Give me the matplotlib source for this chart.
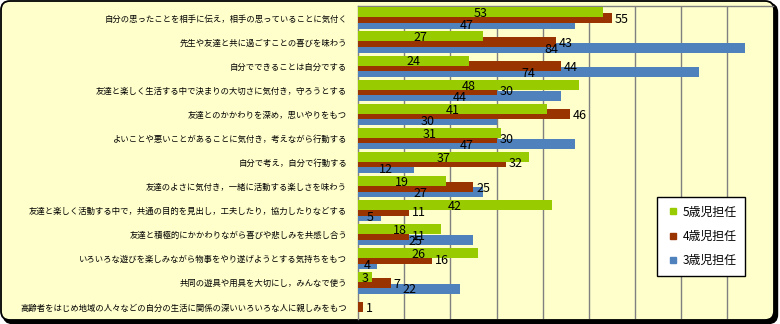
import numpy as np
import matplotlib.pyplot as plt
from matplotlib.patches import FancyBboxPatch
from matplotlib.lines import Line2D

plt.rcParams['font.family'] = ['Noto Sans CJK JP', 'DejaVu Sans']

# items (top to bottom) and counts per teacher group
items = [
    '自分の思ったことを相手に伝え，相手の思っていることに気付く',
    '先生や友達と共に過ごすことの喜びを味わう',
    '自分でできることは自分でする',
    '友達と楽しく生活する中で決まりの大切さに気付き，守ろうとする',
    '友達とのかかわりを深め，思いやりをもつ',
    'よいことや悪いことがあることに気付き，考えながら行動する',
    '自分で考え，自分で行動する',
    '友達のよさに気付き，一緒に活動する楽しさを味わう',
    '友達と楽しく活動する中で，共通の目的を見出し，工夫したり，協力したりなどする',
    '友達と積極的にかかわりながら喜びや悲しみを共感し合う',
    'いろいろな遊びを楽しみながら物事をやり遂げようとする気持ちをもつ',
    '共同の遊具や用具を大切にし，みんなで使う',
    '高齢者をはじめ地域の人々などの自分の生活に関係の深いいろいろな人に親しみをもつ',
]
age5 = [53, 27, 24, 48, 41, 31, 37, 19, 42, 18, 26, 3, 0]
age4 = [55, 43, 44, 30, 46, 30, 32, 25, 11, 11, 16, 7, 1]
age3 = [47, 84, 74, 44, 30, 47, 12, 27, 5, 25, 4, 22, 0]
series_names = ['5歳児担任', '4歳児担任', '3歳児担任']
colors = ['#99CC00', '#993300', '#4F81BD']

W, H = 780, 324
fig = plt.figure(figsize=(W / 100, H / 100), dpi=100)

# rounded chart frame with a small shadow
bg = fig.add_axes([0, 0, 1, 1], zorder=0)
bg.set_xlim(0, W)
bg.set_ylim(H, 0)
bg.axis('off')
bg.add_patch(FancyBboxPatch((3.5, 3.5), 774, 320, boxstyle='round,pad=0,rounding_size=9',
                            facecolor='black', edgecolor='black', lw=1))
bg.add_patch(FancyBboxPatch((1, 1), 773, 319, boxstyle='round,pad=0,rounding_size=9',
                            facecolor='#FFFFCC', edgecolor='black', lw=1.3))

left, right, top, bottom = 358.3, 773, 6, 319
ax = fig.add_axes([left / W, 1 - bottom / H, (right - left) / W, (bottom - top) / H], zorder=1)
ax.set_facecolor('none')

y = np.arange(len(items))
h = 0.415
step = 0.235
offsets = [-step, 0, step]
data = [age5, age4, age3]

# blue underneath, green on top
for k in [2, 1, 0]:
    ax.barh(y + offsets[k], data[k], height=h, color=colors[k], zorder=3 + (2 - k))

for k in range(3):
    for i, v in enumerate(data[k]):
        if v == 0:
            continue
        yy = y[i] + offsets[k] + 0.06
        if k == 1:
            ax.annotate(str(v), (v, yy), xytext=(2, 0), textcoords='offset points',
                        ha='left', va='center', fontsize=9, zorder=10)
        else:
            ax.text(v / 2, yy, str(v), ha='center', va='center', fontsize=9, zorder=10)

ax.set_xlim(0, 90)
ax.set_ylim(len(items) - 0.5, -0.5)
ax.set_xticks(np.arange(10, 90, 10))
ax.xaxis.grid(True, color='#808080', lw=1)
ax.set_axisbelow(True)
ax.tick_params(axis='x', length=0, labelbottom=False)
ax.set_yticks(y)
ax.set_yticklabels(items, fontsize=6.0)
ax.tick_params(axis='y', length=0, pad=8)
for s in ['right', 'bottom']:
    ax.spines[s].set_visible(False)
for s in ['left', 'top']:
    ax.spines[s].set_color('#808080')
    ax.spines[s].set_linewidth(1)

handles = [Line2D([], [], marker='s', ls='none', color=c, markersize=5) for c in colors]
leg = fig.legend(handles, series_names, loc='upper left',
                 bbox_to_anchor=(656.7 / W, 1 - 197.3 / H), fontsize=8.6,
                 frameon=True, fancybox=False, edgecolor='black', framealpha=1,
                 labelspacing=0.95, handlelength=1.4, handletextpad=0.1,
                 borderpad=0.7, borderaxespad=0)
leg.get_frame().set_linewidth(1)
leg.set_zorder(20)
for t in leg.get_texts():
    t.set_fontfamily(['Noto Sans CJK JP', 'DejaVu Sans'])

fig.savefig('out.png', dpi=100)
